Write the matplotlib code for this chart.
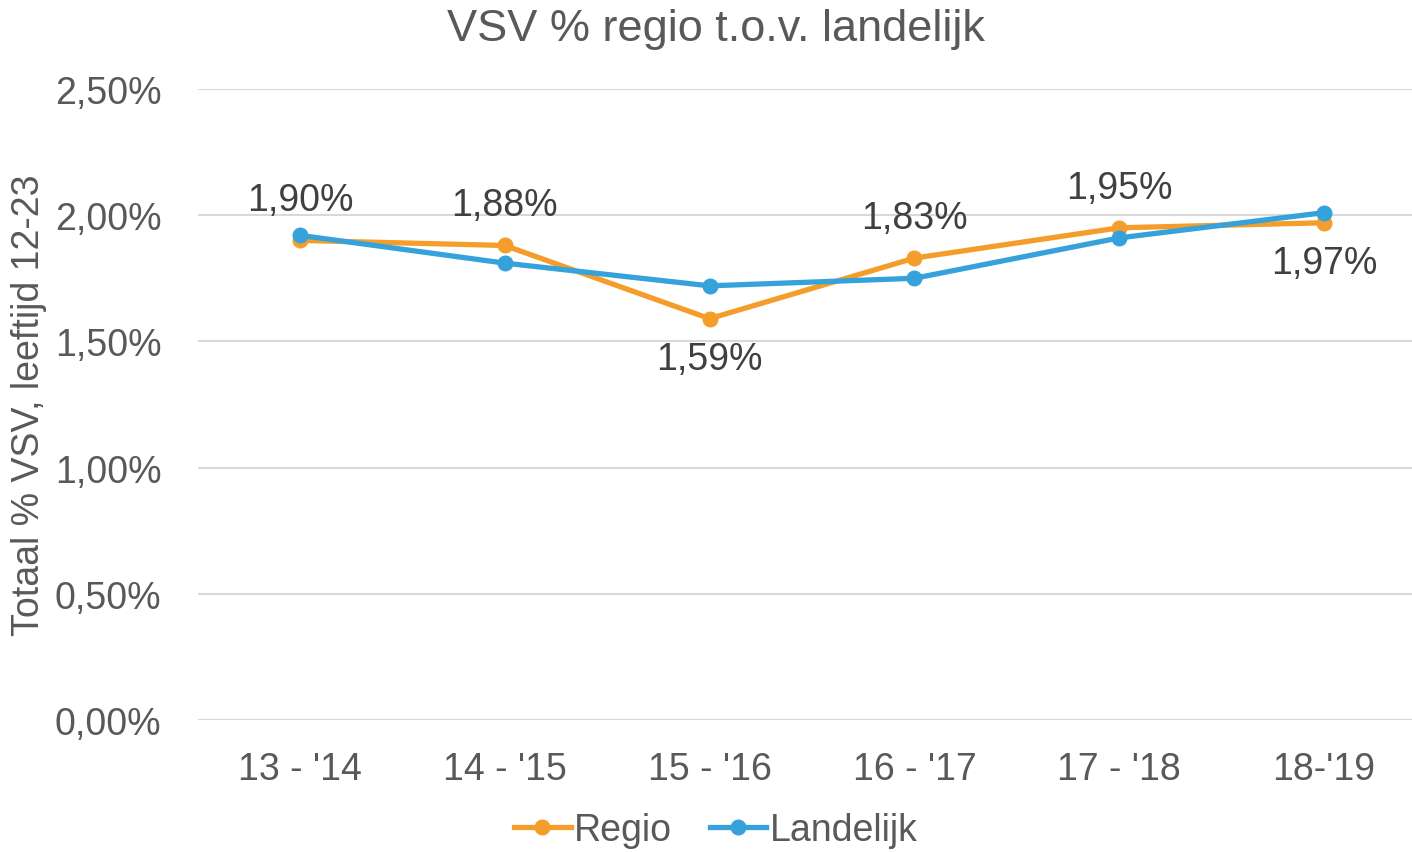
import matplotlib.pyplot as plt
from matplotlib.ticker import FuncFormatter

plt.rcParams['font.family'] = ['Liberation Sans', 'DejaVu Sans']

jaren = ["13 - '14", "14 - '15", "15 - '16", "16 - '17", "17 - '18", "18-'19"]
regio = [1.90, 1.88, 1.59, 1.83, 1.95, 1.97]
landelijk = [1.92, 1.81, 1.72, 1.75, 1.91, 2.01]
label_boven = [True, True, False, True, True, False]

oranje = '#F59D2A'
blauw = '#36A2DB'
grijs = '#595959'

fig = plt.figure(figsize=(14.12, 8.53), dpi=100)
ax = fig.add_axes([0.140, 0.1548, 0.86, 0.7397])

x = list(range(len(jaren)))
ax.plot(x, regio, color=oranje, lw=3.8, marker='o', ms=10.5, label='Regio', zorder=3)
ax.plot(x, landelijk, color=blauw, lw=3.8, marker='o', ms=10.5, label='Landelijk', zorder=4)

for i, v in enumerate(regio):
    dy = 29 if label_boven[i] else -29
    ax.annotate(f"{v:.2f}%".replace('.', ','), (i, v), xytext=(0, dy),
                textcoords='offset points', ha='center', va='center',
                fontsize=27, color='#404040')

ax.set_ylim(0, 2.5)
ax.set_xlim(-0.5, 5.43)
ax.set_yticks([0, 0.5, 1.0, 1.5, 2.0, 2.5])
ax.yaxis.set_major_formatter(FuncFormatter(lambda v, p: f"{v:.2f}%".replace('.', ',')))
ax.set_xticks(x)
ax.set_xticklabels(jaren)
ax.tick_params(axis='both', length=0, labelsize=27, colors=grijs)
ax.tick_params(axis='x', pad=22)
ax.tick_params(axis='y', pad=26)
ax.grid(axis='y', color='#D9D9D9', lw=1.5)
ax.set_axisbelow(True)
for s in ax.spines.values():
    s.set_visible(False)

ax.set_ylabel('Totaal % VSV, leeftijd 12-23', fontsize=27, color=grijs, labelpad=6)
fig.text(0.507, 0.966, 'VSV % regio t.o.v. landelijk', ha='center', va='center',
         fontsize=32.5, color=grijs)

fig.legend(loc='center', bbox_to_anchor=(0.507, 0.026), ncol=2, frameon=False,
           fontsize=27, labelcolor=grijs, handlelength=1.5, handletextpad=0.1,
           columnspacing=1.0)

fig.savefig('out.png', dpi=100)
